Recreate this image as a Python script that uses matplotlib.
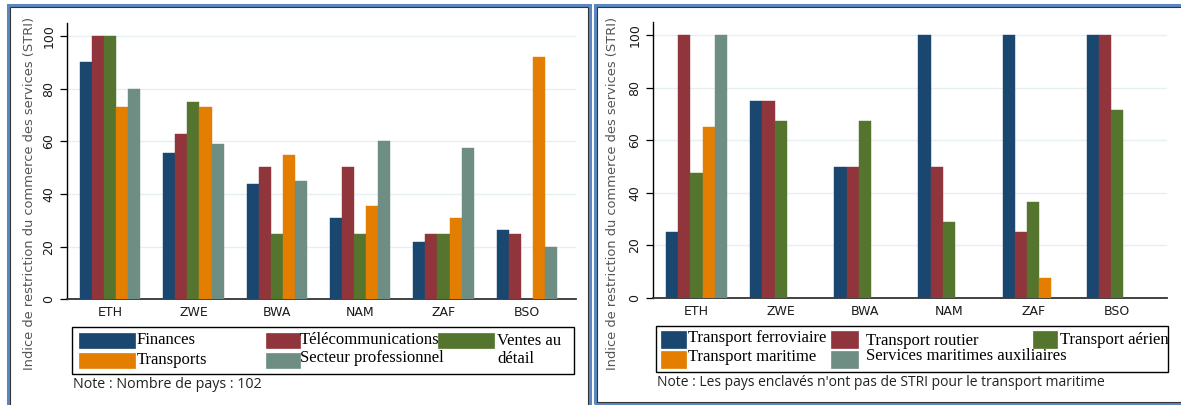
import numpy as np
import matplotlib
matplotlib.use("Agg")
import matplotlib.pyplot as plt
from matplotlib.patches import Rectangle

# ---- data ----
countries = ["ETH", "ZWE", "BWA", "NAM", "ZAF", "BSO"]

left_series = ["Finances", "Télécommunications", "Ventes au\ndétail", "Transports", "Secteur professionnel"]
finances = [90, 55.7, 43.7, 31, 21.8, 26.2]
telecom = [100, 62.8, 50.4, 50.4, 25, 25]
ventes = [100, 75, 25, 25, 25, np.nan]
transports = [73, 73, 54.7, 35.3, 31, 92.1]
secteur_pro = [80, 59, 44.8, 60, 57.6, 20]

right_series = ["Transport ferroviaire", "Transport routier", "Transport aérien",
                "Transport maritime", "Services maritimes auxiliaires"]
ferroviaire = [25, 75, 50, 100, 100, 100]
routier = [100, 75, 50, 50, 25, 100]
aerien = [47.6, 67.4, 67.4, 28.8, 36.5, 71.5]
maritime = [65, np.nan, np.nan, np.nan, 7.5, np.nan]
maritimes_aux = [100, np.nan, np.nan, np.nan, np.nan, np.nan]

yticks = [0, 20, 40, 60, 80, 100]
ylabel = "Indice de restriction du commerce des services (STRI)"
note_left = "Note : Nombre de pays : 102"
note_right = "Note : Les pays enclavés n'ont pas de STRI pour le transport maritime"

colors = ["#1a476f", "#90353b", "#55752f", "#e37e00", "#6e8e84"]

W, H = 1181, 405
fig = plt.figure(figsize=(W / 100, H / 100), dpi=100)
fig.patch.set_facecolor("white")


def fx(px):
    return px / W


def fy(py):
    return 1 - py / H


def add_ax(x0, x1, y0, y1):
    return fig.add_axes([fx(x0), fy(y1), fx(x1) - fx(x0), (y1 - y0) / H])


def draw_panel(ax, series_vals):
    x = np.arange(len(countries))
    w = 0.145
    for j, vals in enumerate(series_vals):
        ax.bar(x + (j - 2) * w, vals, width=w, color=colors[j],
               edgecolor=colors[j], linewidth=0.3, zorder=3)
    ax.set_xlim(-0.52, 5.59)
    ax.set_ylim(0, 105)
    ax.set_yticks(yticks)
    ax.set_yticklabels([str(t) for t in yticks], rotation=90, va="center",
                       fontsize=9, color="#1a1a1a")
    ax.set_xticks(x)
    ax.set_xticklabels(countries, fontsize=9, color="#1a1a1a")
    ax.tick_params(axis="x", length=0, pad=5)
    ax.tick_params(axis="y", length=5, width=0.9, pad=3, color="black")
    for t in yticks[1:]:
        ax.axhline(t, color="#e6eff1", linewidth=1.0, zorder=1)
    for s in ["top", "right"]:
        ax.spines[s].set_visible(False)
    ax.spines["left"].set_color("black")
    ax.spines["left"].set_linewidth(1.0)
    ax.spines["bottom"].set_color("#333333")
    ax.spines["bottom"].set_linewidth(1.3)
    ax.set_facecolor("white")


axL = add_ax(66.7, 576, 23, 299.3)
draw_panel(axL, [finances, telecom, ventes, transports, secteur_pro])
axR = add_ax(652.7, 1167, 22, 298)
draw_panel(axR, [ferroviaire, routier, aerien, maritime, maritimes_aux])

# y labels
for xpx in (30, 612):
    fig.text(fx(xpx), fy(193), ylabel, rotation=90, ha="center", va="center",
             fontsize=9.4, color="#555555")


def frame(x0, y0, x1, y1):
    fig.add_artist(Rectangle((fx(x0), fy(y1)), fx(x1) - fx(x0), (y1 - y0) / H,
                             transform=fig.transFigure, fill=False,
                             edgecolor="#5b87c0", linewidth=2.2))
    fig.add_artist(Rectangle((fx(x0 + 2), fy(y1 - 2)), fx(x1 - x0 - 4), (y1 - y0 - 4) / H,
                             transform=fig.transFigure, fill=False,
                             edgecolor="#333333", linewidth=0.8))


frame(8, 5, 590, 412)
frame(595, 5, 1190, 404)


def legend_box(x0, y0, x1, y1, items):
    fig.add_artist(Rectangle((fx(x0), fy(y1)), fx(x1) - fx(x0), (y1 - y0) / H,
                             transform=fig.transFigure, fill=False,
                             edgecolor="black", linewidth=1.0))
    for (sx0, sx1, sy0, sy1, tx, ty, label, c) in items:
        fig.add_artist(Rectangle((fx(sx0), fy(sy1)), fx(sx1) - fx(sx0), (sy1 - sy0) / H,
                                 transform=fig.transFigure, facecolor=c,
                                 edgecolor=c, linewidth=0.5))
        fig.text(fx(tx), fy(ty), label, ha="left", va="center",
                 fontsize=12, family="Liberation Serif", color="black",
                 linespacing=1.15)


legend_box(72, 326.5, 573.6, 374, [
    (78.7, 134.8, 333, 347.6, 137, 340, left_series[0], colors[0]),
    (78.7, 134.8, 352.7, 368, 137, 360, left_series[3], colors[3]),
    (265.8, 299.8, 333, 347.6, 300, 340, left_series[1], colors[1]),
    (265.8, 299.8, 352.7, 368, 300, 358, left_series[4], colors[4]),
    (438, 493.7, 333, 347.6, 497, 350, left_series[2], colors[2]),
])

legend_box(656, 325.5, 1168, 372, [
    (661, 686, 331, 348, 688, 338, right_series[0], colors[0]),
    (661, 686, 351, 368, 688, 357, right_series[3], colors[3]),
    (831, 858, 331, 348, 866, 341, right_series[1], colors[1]),
    (831, 858, 351, 368, 866, 356, right_series[4], colors[4]),
    (1033, 1057, 331, 348, 1060, 340, right_series[2], colors[2]),
])

fig.text(fx(73), fy(385), note_left, ha="left", va="center", fontsize=10.3,
         family="Open Sans", color="#222222")
fig.text(fx(657), fy(383), note_right, ha="left", va="center", fontsize=10,
         family="Open Sans", color="#222222")

fig.savefig("out.png", dpi=100, facecolor="white")
